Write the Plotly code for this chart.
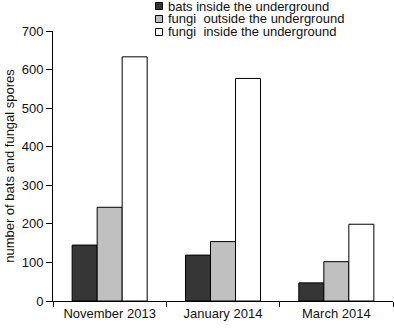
import plotly.graph_objects as go

categories = ["November 2013", "January 2014", "March 2014"]
series_names = ["bats inside the underground",
                "fungi\u00a0 outside the underground",
                "fungi\u00a0 inside the underground"]
bats_inside = [145, 119, 47]
fungi_outside = [243, 154, 102]
fungi_inside = [633, 577, 199]
series_values = [bats_inside, fungi_outside, fungi_inside]
series_colors = ["#363636", "#c0c0c0", "#ffffff"]
y_ticks = [0, 100, 200, 300, 400, 500, 600, 700]

FONT = "Liberation Sans, Arial, sans-serif"
W, H = 394, 328
ML, MR, MT, MB = 53, 1, 31, 27
PW, PH = W - ML - MR, H - MT - MB

fig = go.Figure()
for name, vals, col in zip(series_names, series_values, series_colors):
    fig.add_trace(go.Bar(x=categories, y=vals, name=name,
                         marker=dict(color=col, line=dict(color="#000000", width=1)),
                         showlegend=False))

# legend drawn as swatches + labels
def px2x(px):
    return (px - ML) / PW
def py2y(py):
    return (H - MB - py) / PH

row_centers = [6, 19, 32]
shapes = []
annotations = []
for name, col, cy in zip(series_names, series_colors, row_centers):
    shapes.append(dict(type="rect", xref="paper", yref="paper",
                       x0=px2x(155.5), x1=px2x(162.5),
                       y0=py2y(cy + 3.5), y1=py2y(cy - 3.5),
                       fillcolor=col, line=dict(color="#000000", width=1)))
    annotations.append(dict(text=name, xref="paper", yref="paper",
                            x=px2x(165.5), y=py2y(cy), xanchor="left", yanchor="middle",
                            showarrow=False, font=dict(family=FONT, size=13, color="#111111")))

fig.update_layout(
    width=W, height=H,
    margin=dict(l=ML, r=MR, t=MT, b=MB, pad=0),
    paper_bgcolor="white", plot_bgcolor="white",
    barmode="group", bargap=0.338, bargroupgap=0,
    font=dict(family=FONT, size=13, color="#111111"),
    shapes=shapes, annotations=annotations,
    xaxis=dict(showline=True, linecolor="#000000", linewidth=1,
               ticks="outside", tickson="boundaries", ticklen=5, tickcolor="#000000",
               showgrid=False, zeroline=False, fixedrange=True,
               tickfont=dict(family=FONT, size=13)),
    yaxis=dict(range=[0, 700], tickvals=y_ticks, showline=True, linecolor="#000000",
               linewidth=1, ticks="outside", ticklen=6, tickcolor="#000000",
               showgrid=False, zeroline=False,
               tickfont=dict(family=FONT, size=13),
               title=dict(text="number of bats and fungal spores",
                          font=dict(family=FONT, size=13), standoff=4)),
)

fig.write_html("out.html")
